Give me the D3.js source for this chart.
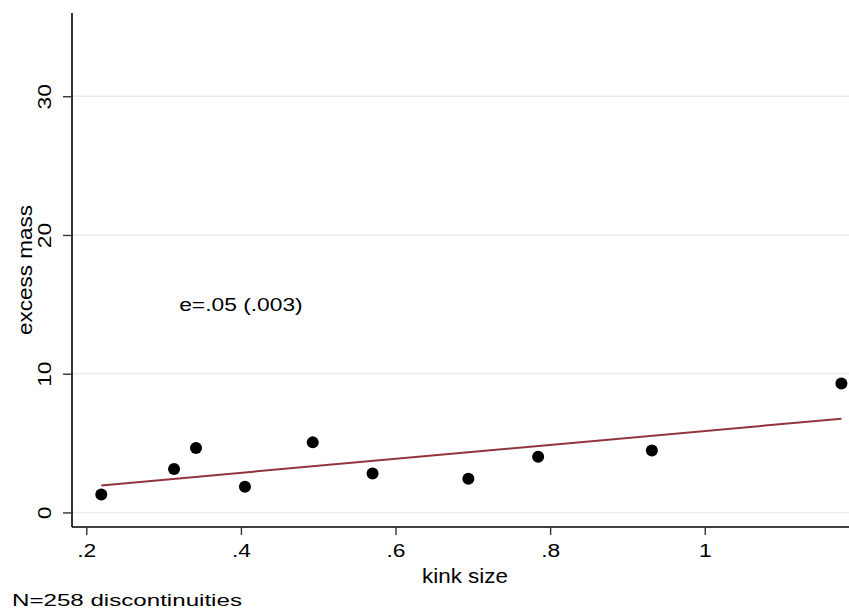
<!DOCTYPE html>
<html>
<head>
<meta charset="utf-8">
<script src="https://cdn.jsdelivr.net/npm/d3@7"></script>
<style>
  html, body { margin: 0; padding: 0; background: #fff; }
  svg { display: block; }
  text { font-family: "Liberation Sans", Arial, Helvetica, sans-serif; fill: #000; }
</style>
</head>
<body>
<svg id="chart" width="849" height="613"></svg>
<script>
// Bin-level excess mass against kink size
const kinkSize   = [0.2194, 0.3135, 0.3419, 0.4052, 0.4929, 0.5703, 0.6942, 0.7845, 0.9316, 1.1768];
const excessMass = [1.30, 3.13, 4.64, 1.85, 5.05, 2.81, 2.43, 4.02, 4.47, 9.30];

// Fitted line endpoints (linear fit over the observed range)
const fitX = [0.2194, 1.1768];
const fitY = [1.95, 6.76];

const xTickValues = [0.2, 0.4, 0.6, 0.8, 1];
const xTickLabels = [".2", ".4", ".6", ".8", "1"];
const yTickValues = [0, 10, 20, 30];
const yTickLabels = ["0", "10", "20", "30"];

const xTitle = "kink size";
const yTitle = "excess mass";
const note = "N=258 discontinuities";
const annotation = { x: 0.4, y: 15, text: "e=.05 (.003)" };

const svg = d3.select("#chart");
const plot = { left: 72, right: 849, top: 13, bottom: 527 };

const x = d3.scaleLinear().domain([0.1815, 1.1866]).range([plot.left, plot.right]);
const y = d3.scaleLinear().domain([-1.05, 36]).range([plot.bottom, plot.top]);

const stretch = 1.2;  // wide Helvetica-style glyphs
const fs = 19;

// gridlines
svg.append("g").selectAll("line").data(yTickValues).join("line")
  .attr("x1", plot.left).attr("x2", plot.right)
  .attr("y1", d => y(d)).attr("y2", d => y(d))
  .attr("stroke", "#e6edf2").attr("stroke-width", 1.6);

// x axis
const xAxis = svg.append("g").attr("transform", `translate(0,${plot.bottom})`)
  .call(d3.axisBottom(x).tickValues(xTickValues)
    .tickFormat((d, i) => xTickLabels[i]).tickSize(8).tickPadding(0).tickSizeOuter(0));
xAxis.select(".domain").attr("stroke", "#000").attr("stroke-width", 1.6)
  .attr("d", `M${plot.left},0H${plot.right}`);
xAxis.selectAll(".tick line").attr("stroke", "#333").attr("stroke-width", 1.4);
xAxis.selectAll(".tick text")
  .attr("y", null).attr("dy", null)
  .attr("transform", `translate(0,30) scale(${stretch},1)`)
  .attr("font-size", fs).attr("text-anchor", "middle");

// y axis
const yAxis = svg.append("g").attr("transform", `translate(${plot.left},0)`)
  .call(d3.axisLeft(y).tickValues(yTickValues)
    .tickFormat((d, i) => yTickLabels[i]).tickSize(9).tickPadding(0).tickSizeOuter(0));
yAxis.select(".domain").attr("stroke", "#000").attr("stroke-width", 1.6)
  .attr("d", `M0,${plot.top}V${plot.bottom}`);
yAxis.selectAll(".tick line").attr("stroke", "#333").attr("stroke-width", 1.4);
yAxis.selectAll(".tick text")
  .attr("x", null).attr("dy", null)
  .attr("transform", `translate(-21,0) rotate(-90) scale(${stretch},1)`)
  .attr("font-size", fs).attr("text-anchor", "middle");

// fitted line
svg.append("path")
  .datum(fitX.map((d, i) => [d, fitY[i]]))
  .attr("d", d3.line().x(d => x(d[0])).y(d => y(d[1])))
  .attr("fill", "none").attr("stroke", "#90353b").attr("stroke-width", 2);

// points
svg.append("g").selectAll("circle").data(kinkSize).join("circle")
  .attr("cx", d => x(d)).attr("cy", (d, i) => y(excessMass[i]))
  .attr("r", 6).attr("fill", "#000");

// annotation
svg.append("text")
  .attr("transform", `translate(${x(annotation.x)},${y(annotation.y) + 7}) scale(${stretch},1)`)
  .attr("font-size", fs).attr("text-anchor", "middle").text(annotation.text);

// axis titles
svg.append("text")
  .attr("transform", `translate(465,583) scale(1.07,1)`)
  .attr("font-size", 21).attr("text-anchor", "middle").text(xTitle);
svg.append("text")
  .attr("transform", `translate(32,${(plot.top + plot.bottom) / 2}) rotate(-90) scale(1.07,1)`)
  .attr("font-size", 21).attr("text-anchor", "middle").text(yTitle);

// note
svg.append("text")
  .attr("transform", `translate(12,606) scale(1.42,1)`)
  .attr("font-size", 17).attr("text-anchor", "start").text(note);
</script>
</body>
</html>
